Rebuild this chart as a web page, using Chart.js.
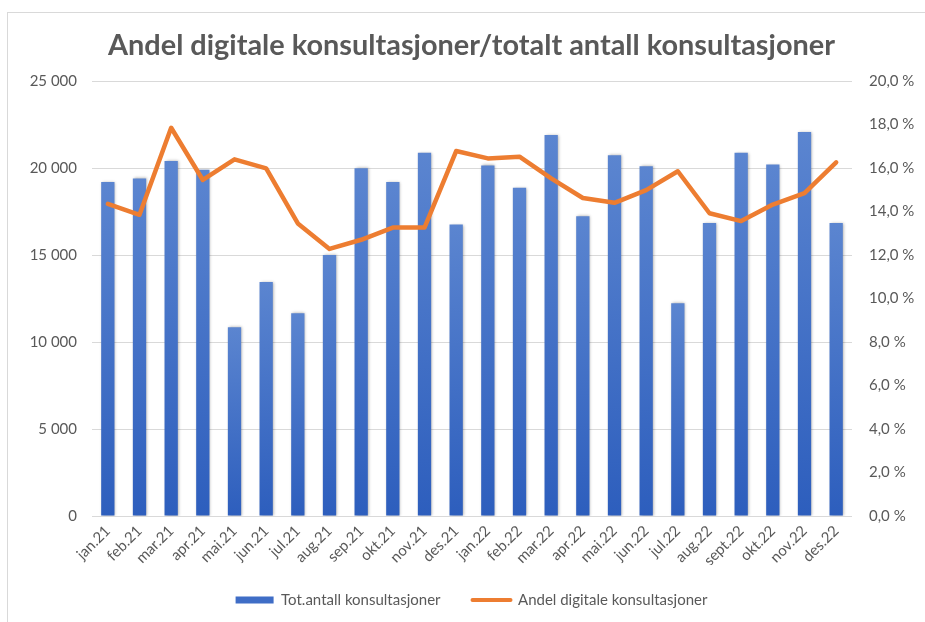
<!DOCTYPE html>
<html>
<head>
<meta charset="utf-8">
<script src="https://cdn.jsdelivr.net/npm/chart.js@4.4.0/dist/chart.umd.min.js"></script>
<style>
  html, body { margin: 0; padding: 0; background: #ffffff; overflow: hidden; }
  #ramme { position: absolute; left: 7px; top: 12px; width: 960px; height: 660px; border: 1px solid #d9d9d9; }
  #graf { position: absolute; left: 0; top: 0; }
</style>
</head>
<body>
<div id="ramme"></div>
<canvas id="graf" width="925" height="622"></canvas>
<script>
const maaneder = ["jan.21", "feb.21", "mar.21", "apr.21", "mai.21", "jun.21", "jul.21", "aug.21", "sep.21", "okt.21", "nov.21", "des.21",
                  "jan.22", "feb.22", "mar.22", "apr.22", "mai.22", "jun.22", "jul.22", "aug.22", "sept.22", "okt.22", "nov.22", "des.22"];
const totaltAntall = [19200, 19400, 20400, 19900, 10850, 13450, 11650, 15000, 19980, 19200, 20880, 16750,
                      20150, 18870, 21900, 17220, 20730, 20100, 12220, 16840, 20880, 20200, 22070, 16840];
const andelDigitale = [14.35, 13.85, 17.85, 15.45, 16.4, 15.98, 13.45, 12.28, 12.7, 13.26, 13.26, 16.78,
                       16.44, 16.52, 15.52, 14.62, 14.4, 14.98, 15.85, 13.92, 13.56, 14.32, 14.84, 16.26];
const venstreTicks = ["0", "5 000", "10 000", "15 000", "20 000", "25 000"];
const hoyreTicks = ["0,0 %", "2,0 %", "4,0 %", "6,0 %", "8,0 %", "10,0 %", "12,0 %", "14,0 %", "16,0 %", "18,0 %", "20,0 %"];

const tittel = "Andel digitale konsultasjoner/totalt antall konsultasjoner";

window.addEventListener("DOMContentLoaded", function() {
    const tekstFarge = "#595959";
    Chart.defaults.font.family = "Lato, 'Open Sans', sans-serif";
    Chart.defaults.color = tekstFarge;

    // tilpass tittelstørrelsen til bredden i originalen
    const maal = document.createElement("canvas").getContext("2d");
    maal.font = "bold 26px Lato";
    const tittelStr = Math.round(26 * 728 / maal.measureText(tittel).width * 10) / 10;

    const PLOT_TOP = 81, PLOT_BOTTOM = 516, PLOT_LEFT = 92, PLOT_RIGHT = 852;
    const PAD_VENSTRE = 18;
    const LEGENDE_MIDT = 600, LEGENDE_PAD = 32, LEGENDE_FONT = 15;

    const skygge = {
        id: "skygge",
        beforeDatasetDraw(chart, args) {
            if (args.index !== 0) return;
            const ctx = chart.ctx;
            ctx.save();
            ctx.shadowColor = "rgba(0,0,0,0.35)";
            ctx.shadowBlur = 3;
            ctx.shadowOffsetX = 1;
            ctx.shadowOffsetY = 0;
        },
        afterDatasetDraw(chart, args) {
            if (args.index === 0) chart.ctx.restore();
        }
    };

    // flytt legenden opp til samme høyde som i originalen
    const legendePlass = {
        id: "legendePlass",
        afterLayout(chart) {
            const lg = chart.legend;
            const h = lg.height;
            lg.top = LEGENDE_MIDT - LEGENDE_PAD - LEGENDE_FONT / 2;
            lg.bottom = lg.top + h;
        }
    };

    function stolpeFarge(c) {
        const chart = c.chart;
        const area = chart.chartArea;
        if (!area || !chart.scales.y) return "#4472C4";
        const v = typeof c.raw === "number" ? c.raw : 20000;
        const y = chart.scales.y.getPixelForValue(v);
        const g = chart.ctx.createLinearGradient(0, y, 0, area.bottom);
        g.addColorStop(0, "#5B85D0");
        g.addColorStop(1, "#2D5EBD");
        return g;
    }

    new Chart(document.getElementById("graf"), {
        data: {
            labels: maaneder,
            datasets: [
                {
                    type: "bar",
                    label: "Tot.antall konsultasjoner",
                    data: totaltAntall,
                    yAxisID: "y",
                    backgroundColor: stolpeFarge,
                    borderWidth: 0,
                    barPercentage: 0.42,
                    categoryPercentage: 1,
                    order: 2
                },
                {
                    type: "line",
                    label: "Andel digitale konsultasjoner",
                    data: andelDigitale,
                    yAxisID: "y2",
                    borderColor: "#ED7D31",
                    backgroundColor: "#ED7D31",
                    borderWidth: 4.5,
                    borderCapStyle: "round",
                    borderJoinStyle: "round",
                    pointRadius: 0,
                    pointHoverRadius: 0,
                    tension: 0,
                    order: 1
                }
            ]
        },
        options: {
            responsive: false,
            animation: false,
            layout: { padding: { left: PAD_VENSTRE, right: 0, top: 0, bottom: 0 } },
            plugins: {
                title: {
                    display: true,
                    text: tittel,
                    color: tekstFarge,
                    font: { size: tittelStr, weight: "bold" },
                    padding: { top: 28, bottom: PLOT_TOP - 28 - tittelStr * 1.2 }
                },
                legend: {
                    position: "bottom",
                    labels: {
                        usePointStyle: true,
                        pointStyleWidth: 38,
                        boxHeight: 7,
                        padding: LEGENDE_PAD,
                        color: tekstFarge,
                        font: { size: LEGENDE_FONT },
                        generateLabels(chart) {
                            const items = Chart.defaults.plugins.legend.labels.generateLabels(chart);
                            items.sort(function(a, b) { return a.datasetIndex - b.datasetIndex; });
                            items.forEach(function(it) {
                                it.fontColor = tekstFarge;
                                if (it.datasetIndex === 0) {
                                    it.pointStyle = "rect";
                                    it.fillStyle = "#3F6DC6";
                                    it.strokeStyle = "rgba(0,0,0,0)";
                                    it.lineWidth = 0;
                                } else {
                                    it.pointStyle = "line";
                                    it.strokeStyle = "#ED7D31";
                                    it.fillStyle = "#ED7D31";
                                    it.lineWidth = 4;
                                    it.lineCap = "round";
                                }
                            });
                            return items;
                        }
                    }
                },
                tooltip: { enabled: false }
            },
            scales: {
                x: {
                    offset: true,
                    grid: { display: false, drawTicks: false },
                    border: { display: false },
                    ticks: { minRotation: 45, maxRotation: 45, padding: 6, color: tekstFarge, font: { size: 15 } },
                    afterFit(scale) {
                        scale.height = scale.chart.height - scale.chart.legend.height - PLOT_BOTTOM;
                    }
                },
                y: {
                    position: "left",
                    min: 0,
                    max: 25000,
                    grid: { color: "#d9d9d9", lineWidth: 1, drawTicks: false },
                    border: { display: false },
                    ticks: {
                        stepSize: 5000,
                        padding: 15,
                        color: tekstFarge,
                        font: { size: 15 },
                        callback: function(value, index) { return venstreTicks[index]; }
                    },
                    afterFit(scale) { scale.width = PLOT_LEFT - PAD_VENSTRE; }
                },
                y2: {
                    position: "right",
                    min: 0,
                    max: 20,
                    grid: { display: false, drawTicks: false },
                    border: { display: false },
                    ticks: {
                        stepSize: 2,
                        padding: 17,
                        color: tekstFarge,
                        font: { size: 15 },
                        callback: function(value, index) { return hoyreTicks[index]; }
                    },
                    afterFit(scale) { scale.width = 925 - PLOT_RIGHT; }
                }
            }
        },
        plugins: [skygge, legendePlass]
    });
});
</script>
</body>
</html>
